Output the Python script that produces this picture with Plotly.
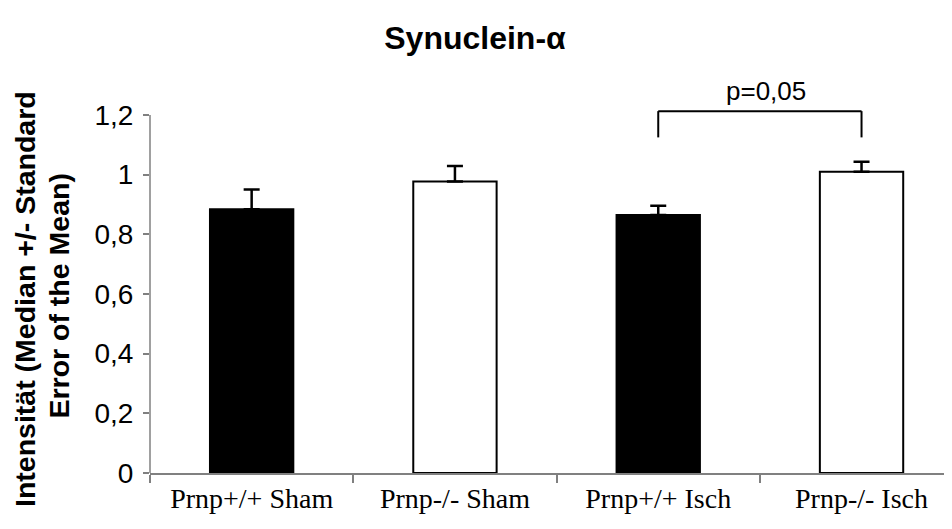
import plotly.graph_objects as go

categories = ["Prnp+/+ Sham", "Prnp-/- Sham", "Prnp+/+ Isch", "Prnp-/- Isch"]
values = [0.884, 0.977, 0.865, 1.010]
errors = [0.066, 0.052, 0.031, 0.033]
bar_colors = ["black", "white", "black", "white"]
y_ticks = [0, 0.2, 0.4, 0.6, 0.8, 1.0, 1.2]
y_tick_text = ["0", "0,2", "0,4", "0,6", "0,8", "1", "1,2"]
y_title_lines = ["Intensität (Median +/- Standard", "Error of the Mean)"]
p_label = "p=0,05"
bracket_pair = [2, 3]
bracket_low, bracket_high = 1.125, 1.213

fig = go.Figure()
fig.add_trace(go.Bar(
    x=categories, y=values,
    marker=dict(color=bar_colors, line=dict(color="black", width=2)),
    error_y=dict(type="data", symmetric=False, array=errors,
                 arrayminus=[0] * len(errors), color="black", thickness=2.5, width=8),
    width=0.41,
))

# significance bracket
fig.add_shape(type="line", x0=bracket_pair[0], x1=bracket_pair[0], y0=bracket_low, y1=bracket_high,
              xref="x", yref="y", line=dict(color="black", width=2))
fig.add_shape(type="line", x0=bracket_pair[1], x1=bracket_pair[1], y0=bracket_low, y1=bracket_high,
              xref="x", yref="y", line=dict(color="black", width=2))
fig.add_shape(type="line", x0=bracket_pair[0], x1=bracket_pair[1], y0=bracket_high, y1=bracket_high,
              xref="x", yref="y", line=dict(color="black", width=2))
fig.add_annotation(x=(bracket_pair[0] + bracket_pair[1]) / 2, y=bracket_high, yshift=3, xshift=6,
                   text=p_label, showarrow=False, yanchor="bottom",
                   font=dict(family="Liberation Sans, Arial", size=26, color="black"))

# y axis line from 0 to top tick
fig.add_shape(type="line", xref="paper", yref="y", x0=0, x1=0, y0=0, y1=y_ticks[-1],
              line=dict(color="#808080", width=1.5))

for line_text, ax, ay in zip(y_title_lines, [-0.1559, -0.1140], [0.4213, 0.4286]):
    fig.add_annotation(xref="paper", yref="paper", x=ax, y=ay, textangle=-90,
                       text="<b>" + line_text + "</b>",
                       showarrow=False, xanchor="center", yanchor="middle",
                       font=dict(family="Liberation Sans, Arial", size=28.5, color="black"))

fig.update_layout(
    width=944, height=521,
    margin=dict(l=142, r=0, t=52, b=56),
    paper_bgcolor="white", plot_bgcolor="white",
    showlegend=False,
    title=dict(text="<b>Synuclein-α</b>", x=0.4947, xref="container", xanchor="center",
               y=0.9425, yref="container", yanchor="middle",
               font=dict(family="Liberation Sans, Arial", size=32, color="black")),
    xaxis=dict(range=[-0.5, 3.445], showline=True, linecolor="#808080", linewidth=1.5,
               ticks="outside", tickson="boundaries", ticklen=8, tickcolor="#808080",
               tickwidth=1.5, showgrid=False, zeroline=False, ticklabelstandoff=0,
               tickfont=dict(family="Liberation Serif, Times New Roman", size=28, color="black")),
    yaxis=dict(range=[0, 1.3844], tickvals=y_ticks, ticktext=y_tick_text,
               showline=False, ticks="outside", ticklen=6, tickcolor="#808080", tickwidth=1.5,
               showgrid=False, zeroline=False, ticklabelstandoff=4,
               tickfont=dict(family="Liberation Sans, Arial", size=28, color="black")),
)

fig.write_html("out.html")
